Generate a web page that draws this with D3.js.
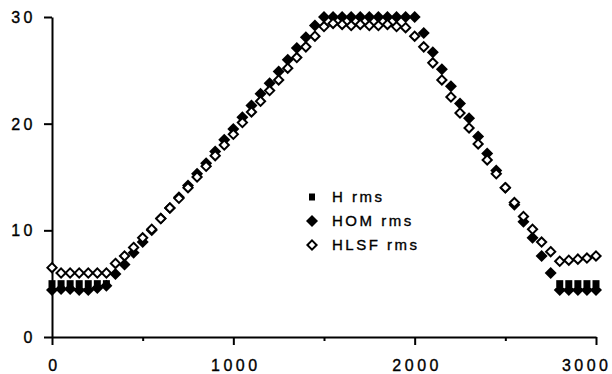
<!DOCTYPE html>
<html>
<head>
<meta charset="utf-8">
<script src="https://cdn.jsdelivr.net/npm/d3@7"></script>
<style>
  body { margin: 0; background: #fff; }
  svg { display: block; }
  text { font-family: 'Liberation Sans', Arial, sans-serif; fill: #000; stroke: #000; stroke-width: 0.35px; }
</style>
</head>
<body>
<div class="chart"></div>
<script>
// x positions of the samples
const xValues = [
  0, 50, 100, 150, 200, 250, 300, 350, 400, 450, 500, 550, 600, 650, 700, 750,
  800, 850, 900, 950, 1000, 1050, 1100, 1150, 1200, 1250, 1300, 1350, 1400, 1450,
  1500, 1550, 1600, 1650, 1700, 1750, 1800, 1850, 1900, 1950, 2000, 2050, 2100,
  2150, 2200, 2250, 2300, 2350, 2400, 2450, 2500, 2550, 2600, 2650, 2700, 2750,
  2800, 2850, 2900, 2950, 3000
];
const homRms = [
  4.4, 4.5, 4.5, 4.4, 4.4, 4.6, 4.8,
  5.9, 6.8, 7.9, 8.9, 10.0, 11.1, 12.1, 13.1, 14.2, 15.3, 16.3, 17.4, 18.5, 19.5,
  20.6, 21.7, 22.8, 23.8, 24.9, 26.0, 27.1, 28.1, 29.2,
  30, 30, 30, 30, 30, 30, 30, 30, 30, 30, 30,
  28.5, 26.7, 25.1, 23.5, 21.9, 20.5, 18.8, 17.2, 15.6, 14.0, 12.4, 10.8, 9.3, 7.6, 6.0,
  4.4, 4.4, 4.4, 4.4, 4.4
];
const hlsfRms = [
  6.5, 6.0, 6.0, 6.0, 6.0, 6.0, 6.0,
  6.9, 7.6, 8.4, 9.3, 10.1, 11.1, 12.1, 13.0, 14.0, 15.0, 16.0, 17.0, 18.0, 19.0,
  20.1, 21.1, 22.1, 23.1, 24.1, 25.2, 26.2, 27.2, 28.2,
  29.1, 29.4, 29.3, 29.2, 29.3, 29.2, 29.2, 29.3, 29.1, 29.0, 28.2,
  27.2, 25.7, 24.1, 22.5, 21.0, 19.6, 18.1, 16.6, 15.3, 14.0, 12.6, 11.3, 10.1, 8.9, 8.0,
  7.1, 7.2, 7.3, 7.4, 7.6
];
// H rms only shows on the flat parts
const hX = [0, 50, 100, 150, 200, 250, 300, 2800, 2850, 2900, 2950, 3000];
const hRms = [5.0, 5.0, 5.0, 5.0, 5.0, 5.0, 5.0, 5.0, 5.0, 5.0, 5.0, 5.0];

const xTicks = [0, 1000, 2000, 3000];
const xMinorTicks = [500, 1500, 2500];
const yTicks = [0, 10, 20, 30];
const legendLabels = ['H rms', 'HOM rms', 'HLSF rms'];

const width = 612, height = 374;
const svg = d3.select('.chart').append('svg')
  .attr('width', width)
  .attr('height', height);

const xscale = d3.scaleLinear().domain([0, 3000]).range([52, 596]);
const yscale = d3.scaleLinear().domain([0, 30]).range([337, 17]);

// axes
const xAxis = svg.append('g')
  .attr('transform', 'translate(0,' + yscale(0) + ')')
  .call(d3.axisBottom(xscale).tickValues(xTicks).tickSize(8).tickSizeOuter(0)
    .tickFormat(d3.format('d')));
svg.append('g')
  .attr('transform', 'translate(0,' + yscale(0) + ')')
  .call(d3.axisBottom(xscale).tickValues(xMinorTicks).tickSize(4).tickSizeOuter(0).tickFormat(''))
  .select('.domain').remove();
const yAxis = svg.append('g')
  .attr('transform', 'translate(' + xscale(0) + ',0)')
  .call(d3.axisLeft(yscale).tickValues(yTicks).tickSize(8).tickSizeOuter(0)
    .tickFormat(d3.format('d')));

svg.selectAll('.domain, .tick line')
  .attr('stroke', '#000')
  .attr('stroke-width', 2);

svg.selectAll('.tick text')
  .attr('font-family', "'Liberation Sans', Arial, sans-serif")
  .attr('font-size', 16)
  .style('letter-spacing', '3.5px');
xAxis.selectAll('text')
  .attr('x', 2)
  .attr('y', 34)
  .attr('dy', 0);
// last label would run past the right edge
xAxis.selectAll('text').filter(d => d === 3000)
  .attr('text-anchor', 'end')
  .attr('x', 15);
yAxis.selectAll('text')
  .attr('x', -16)
  .attr('dy', '0.35em');

// markers
const diamond = r => 'M0,' + -r + 'L' + r + ',0L0,' + r + 'L' + -r + ',0Z';

svg.append('g').selectAll('path')
  .data(xValues.map((x, i) => ({ x: x, y: homRms[i] })))
  .enter().append('path')
  .attr('transform', d => 'translate(' + xscale(d.x) + ',' + yscale(d.y) + ')')
  .attr('d', diamond(6))
  .attr('fill', '#000');

svg.append('g').selectAll('rect')
  .data(hX.map((x, i) => ({ x: x, y: hRms[i] })))
  .enter().append('rect')
  .attr('x', d => xscale(d.x) - 3.5)
  .attr('y', d => yscale(d.y) - 3.5)
  .attr('width', 7)
  .attr('height', 7)
  .attr('fill', '#000');

svg.append('g').selectAll('path')
  .data(xValues.map((x, i) => ({ x: x, y: hlsfRms[i] })))
  .enter().append('path')
  .attr('transform', d => 'translate(' + xscale(d.x) + ',' + yscale(d.y) + ')')
  .attr('d', diamond(4.6))
  .attr('fill', '#fff')
  .attr('stroke', '#000')
  .attr('stroke-width', 2);

// legend
const legend = svg.append('g').attr('transform', 'translate(312,197)');
legendLabels.forEach((label, i) => {
  const row = legend.append('g').attr('transform', 'translate(0,' + i * 24 + ')');
  if (i === 0) {
    row.append('rect').attr('x', -3).attr('y', -3.5).attr('width', 6).attr('height', 7).attr('fill', '#000');
  } else if (i === 1) {
    row.append('path').attr('d', diamond(6)).attr('fill', '#000');
  } else {
    row.append('path').attr('d', diamond(4.6)).attr('fill', '#fff')
      .attr('stroke', '#000').attr('stroke-width', 2);
  }
  row.append('text')
    .attr('x', 20)
    .attr('y', 5)
    .attr('font-size', 15)
    .style('letter-spacing', '2.5px')
    .text(label);
});
</script>
</body>
</html>
